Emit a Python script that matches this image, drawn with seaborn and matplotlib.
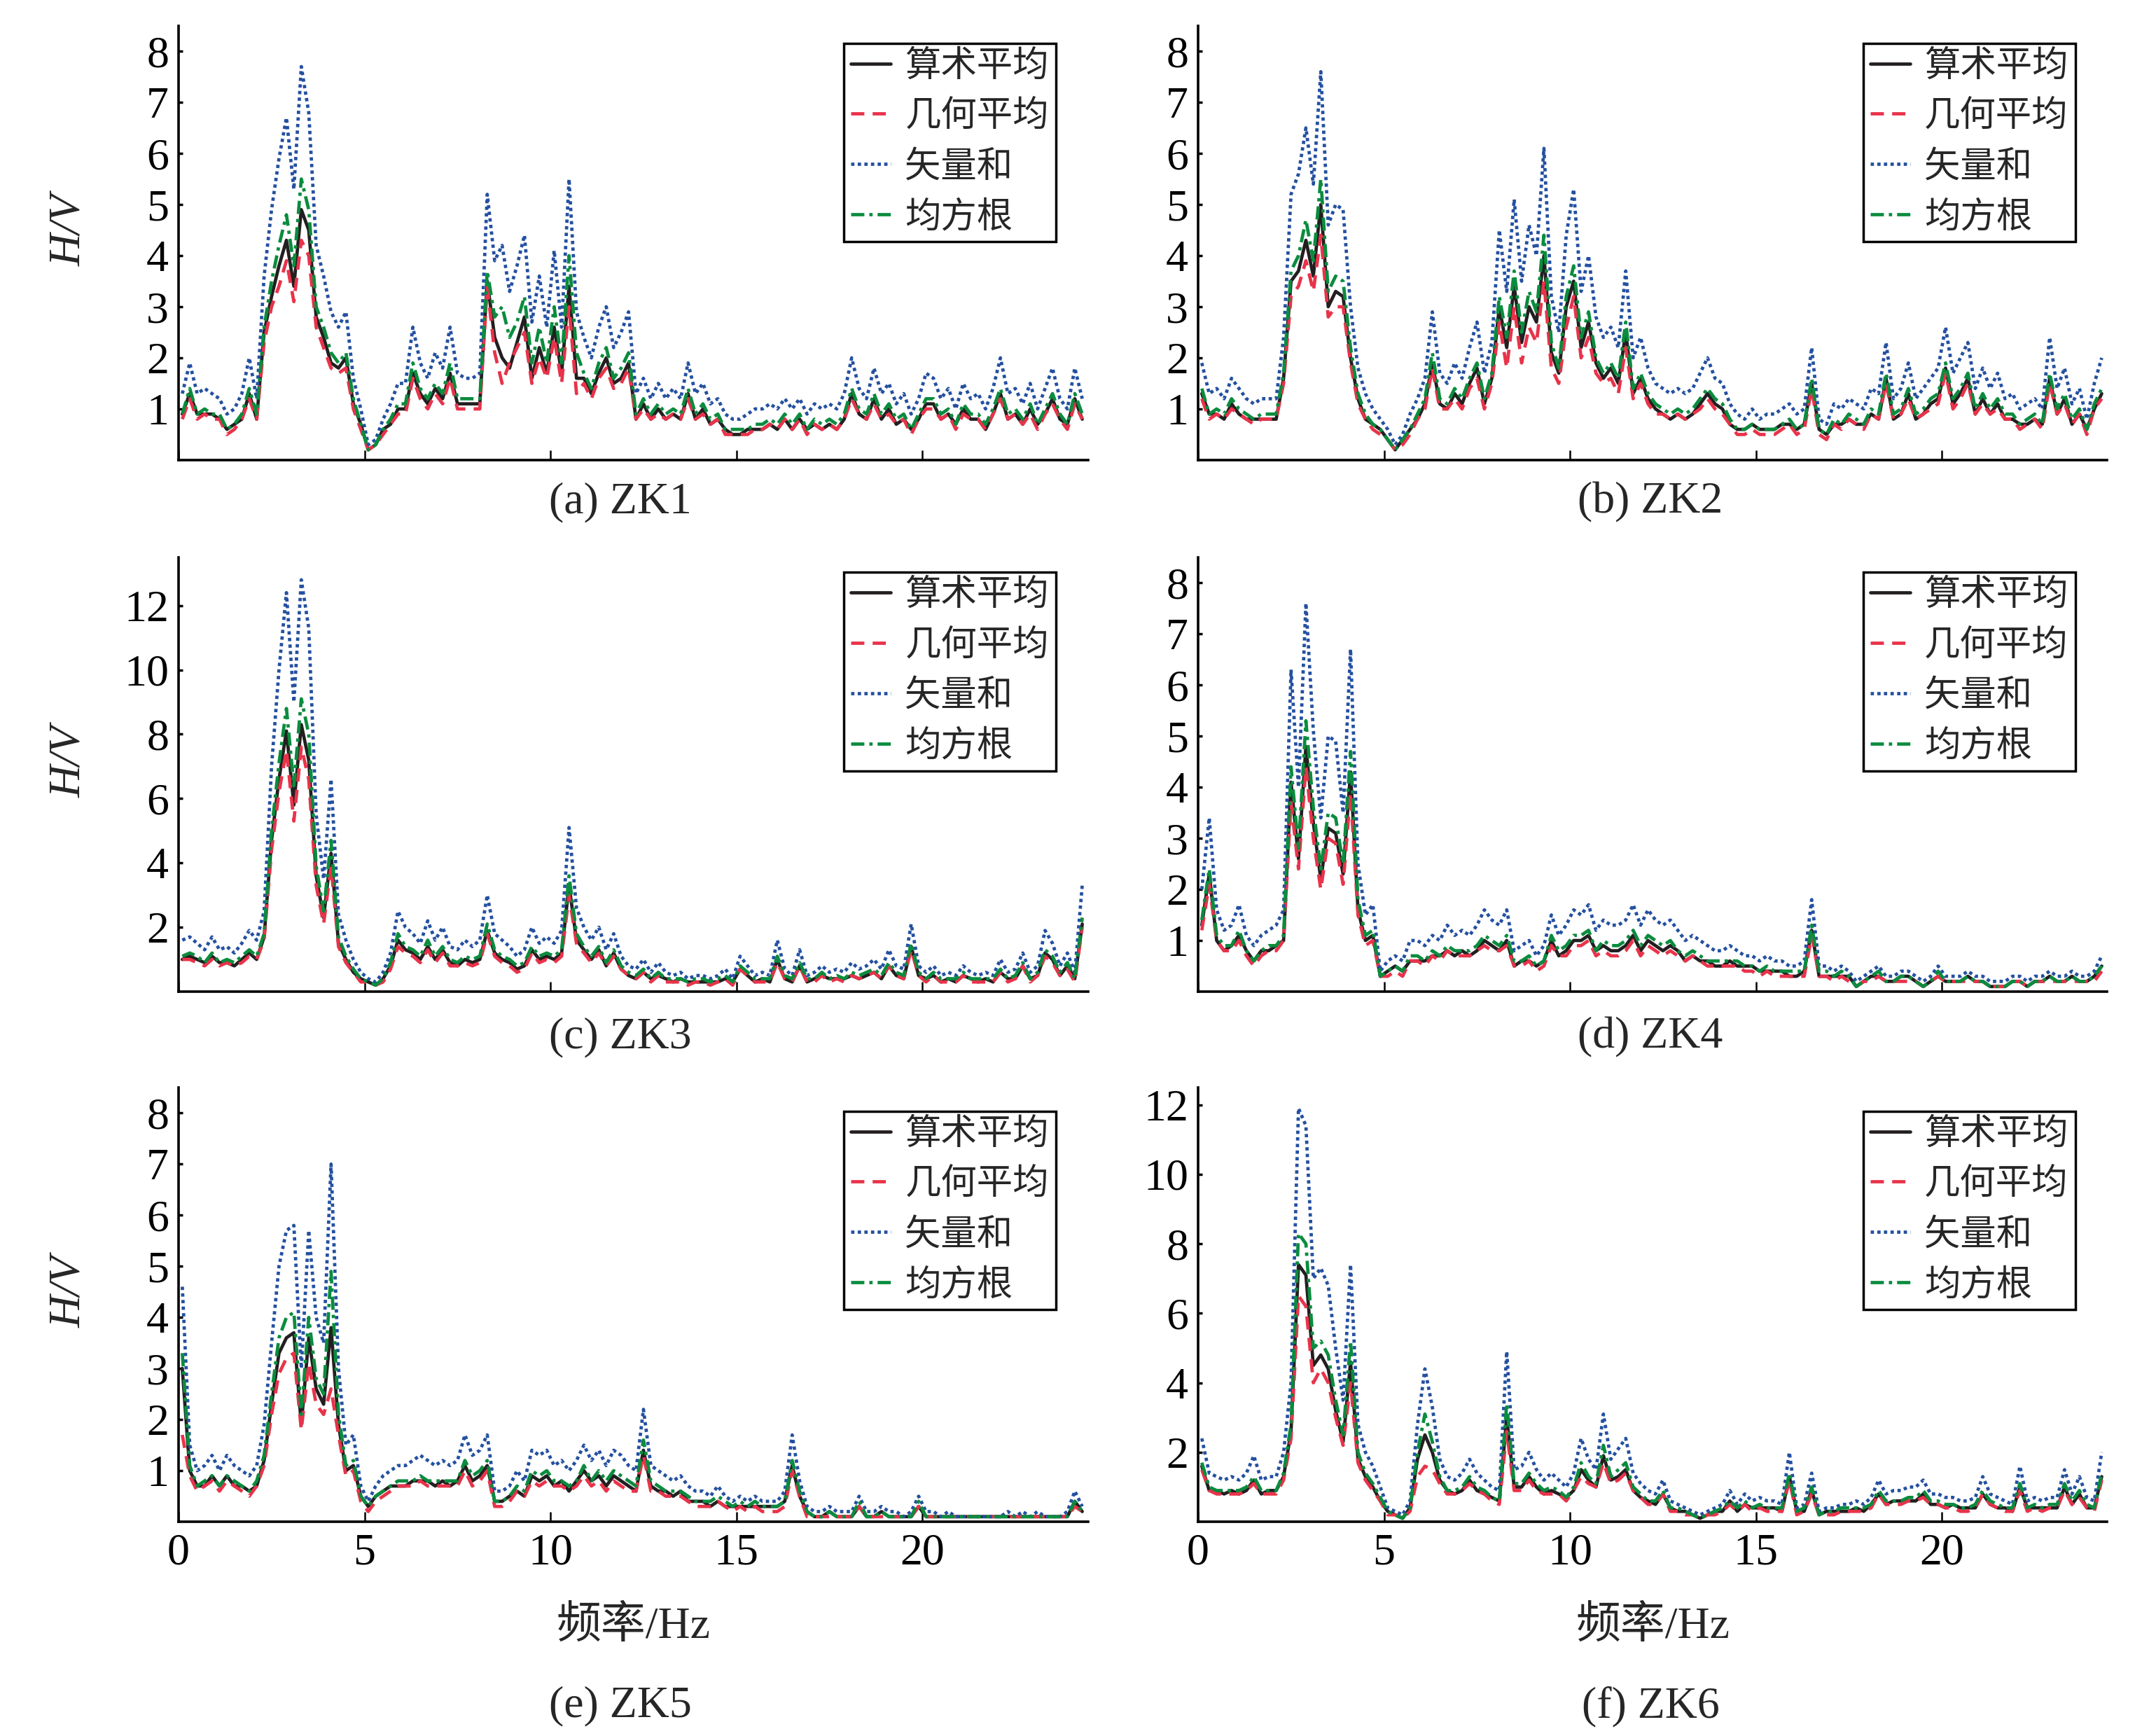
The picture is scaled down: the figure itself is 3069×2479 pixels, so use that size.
import numpy as np
import pandas as pd
import seaborn as sns
import matplotlib.pyplot as plt

# frequency grid (Hz), values every 0.2 Hz
freq = np.round(np.arange(0.1, 24.4, 0.2), 1)
series_names = ['算术平均', '几何平均', '矢量和', '均方根']

# ---- ZK1 ----
zk1_arith = [0.9, 1.3, 0.9, 0.9, 0.9, 0.8, 0.6, 0.7, 0.8, 1.3,
             0.8, 2.5, 3.2, 3.8, 4.3, 3.4, 4.9, 4.5, 2.8, 2.4,
             1.9, 1.8, 2.0, 1.1, 0.7, 0.2, 0.3, 0.6, 0.7, 1.0,
             1.0, 1.7, 1.3, 1.1, 1.4, 1.2, 1.7, 1.1, 1.1, 1.1,
             1.1, 3.5, 2.4, 2.0, 1.8, 2.3, 2.8, 1.6, 2.2, 1.7,
             2.6, 1.7, 3.4, 1.6, 1.6, 1.3, 1.7, 2.0, 1.5, 1.6,
             1.9, 0.8, 1.1, 0.8, 1.0, 0.8, 0.9, 0.8, 1.3, 0.8,
             1.0, 0.7, 0.8, 0.6, 0.5, 0.5, 0.6, 0.6, 0.6, 0.7,
             0.6, 0.8, 0.6, 0.8, 0.6, 0.7, 0.6, 0.7, 0.6, 0.8,
             1.3, 0.9, 0.8, 1.2, 0.8, 1.0, 0.7, 0.8, 0.6, 0.8,
             1.1, 1.1, 0.8, 0.9, 0.7, 1.0, 0.8, 0.8, 0.6, 0.9,
             1.3, 0.8, 0.9, 0.7, 1.0, 0.7, 0.9, 1.2, 0.8, 0.7,
             1.2, 0.8]
zk1_geo = [0.8, 1.2, 0.8, 0.9, 0.8, 0.8, 0.5, 0.6, 0.8, 1.2,
           0.8, 2.3, 3.0, 3.4, 3.9, 3.1, 4.3, 4.0, 2.6, 2.2,
           1.8, 1.7, 1.8, 1.0, 0.6, 0.2, 0.3, 0.5, 0.7, 0.9,
           0.9, 1.6, 1.2, 1.0, 1.3, 1.1, 1.6, 1.0, 1.0, 1.0,
           1.0, 3.4, 2.1, 1.5, 1.9, 2.2, 2.5, 1.5, 2.0, 1.6,
           2.4, 1.5, 3.0, 1.3, 1.5, 1.2, 1.6, 1.8, 1.4, 1.5,
           1.8, 0.8, 1.0, 0.8, 0.9, 0.8, 0.9, 0.8, 1.2, 0.8,
           0.9, 0.7, 0.8, 0.5, 0.5, 0.5, 0.5, 0.6, 0.6, 0.7,
           0.6, 0.8, 0.6, 0.8, 0.5, 0.7, 0.6, 0.7, 0.6, 0.8,
           1.2, 0.9, 0.8, 1.1, 0.8, 0.9, 0.7, 0.8, 0.5, 0.8,
           1.0, 1.0, 0.8, 0.9, 0.6, 0.9, 0.8, 0.8, 0.6, 0.9,
           1.2, 0.8, 0.9, 0.7, 0.9, 0.6, 0.9, 1.1, 0.8, 0.6,
           1.1, 0.8]
zk1_vec = [1.3, 1.9, 1.3, 1.4, 1.3, 1.2, 0.9, 1.0, 1.3, 2.0,
           1.2, 3.6, 4.9, 5.9, 6.7, 5.3, 7.7, 6.8, 4.2, 3.6,
           2.9, 2.6, 2.9, 1.6, 1.0, 0.3, 0.4, 0.8, 1.1, 1.5,
           1.5, 2.6, 1.9, 1.6, 2.1, 1.8, 2.6, 1.7, 1.6, 1.6,
           1.7, 5.2, 3.9, 4.2, 3.3, 3.8, 4.4, 2.7, 3.6, 2.6,
           4.1, 2.6, 5.5, 2.9, 2.4, 2.0, 2.6, 3.0, 2.2, 2.5,
           2.9, 1.3, 1.6, 1.2, 1.5, 1.2, 1.4, 1.2, 1.9, 1.3,
           1.5, 1.1, 1.2, 0.9, 0.8, 0.8, 0.9, 1.0, 1.0, 1.1,
           1.0, 1.2, 1.0, 1.2, 0.9, 1.1, 1.0, 1.1, 1.0, 1.3,
           2.0, 1.4, 1.2, 1.8, 1.3, 1.5, 1.1, 1.3, 0.9, 1.2,
           1.7, 1.6, 1.2, 1.4, 1.0, 1.5, 1.2, 1.3, 1.0, 1.4,
           2.0, 1.3, 1.4, 1.1, 1.5, 1.0, 1.4, 1.8, 1.2, 1.0,
           1.8, 1.2]
zk1_rms = [0.9, 1.4, 0.9, 1.0, 0.9, 0.9, 0.6, 0.7, 0.9, 1.4,
           0.9, 2.6, 3.5, 4.2, 4.8, 3.8, 5.5, 4.9, 3.0, 2.6,
           2.1, 1.9, 2.1, 1.2, 0.7, 0.2, 0.3, 0.6, 0.8, 1.1,
           1.1, 1.9, 1.4, 1.2, 1.5, 1.3, 1.9, 1.2, 1.2, 1.2,
           1.2, 3.7, 2.8, 3.0, 2.4, 2.7, 3.2, 1.9, 2.6, 1.9,
           3.0, 1.9, 4.0, 2.1, 1.7, 1.4, 1.9, 2.2, 1.6, 1.8,
           2.1, 0.9, 1.2, 0.9, 1.1, 0.9, 1.0, 0.9, 1.4, 0.9,
           1.1, 0.8, 0.9, 0.6, 0.6, 0.6, 0.6, 0.7, 0.7, 0.8,
           0.7, 0.9, 0.7, 0.9, 0.6, 0.8, 0.7, 0.8, 0.7, 0.9,
           1.4, 1.0, 0.9, 1.3, 0.9, 1.1, 0.8, 0.9, 0.6, 0.9,
           1.2, 1.2, 0.9, 1.0, 0.7, 1.1, 0.9, 0.9, 0.7, 1.0,
           1.4, 0.9, 1.0, 0.8, 1.1, 0.7, 1.0, 1.3, 0.9, 0.7,
           1.3, 0.9]

# ---- ZK2 ----
zk2_arith = [1.3, 0.9, 0.9, 0.8, 1.1, 0.9, 0.8, 0.8, 0.8, 0.8,
             0.8, 1.6, 3.5, 3.7, 4.3, 3.6, 5.0, 3.0, 3.3, 3.2,
             2.0, 1.2, 0.8, 0.7, 0.6, 0.4, 0.2, 0.4, 0.6, 0.8,
             1.1, 1.9, 1.1, 1.0, 1.3, 1.1, 1.5, 1.8, 1.1, 1.6,
             3.0, 2.2, 3.4, 2.3, 3.0, 2.7, 4.0, 2.1, 1.7, 3.0,
             3.5, 2.2, 2.7, 1.9, 1.6, 1.8, 1.5, 2.5, 1.3, 1.6,
             1.2, 1.0, 0.9, 0.8, 0.9, 0.8, 0.9, 1.1, 1.3, 1.1,
             1.0, 0.7, 0.6, 0.6, 0.7, 0.6, 0.6, 0.6, 0.7, 0.7,
             0.6, 0.7, 1.5, 0.6, 0.5, 0.7, 0.7, 0.8, 0.7, 0.7,
             0.9, 0.8, 1.6, 0.8, 0.9, 1.3, 0.8, 0.9, 1.1, 1.2,
             1.8, 1.1, 1.3, 1.6, 0.9, 1.2, 0.9, 1.1, 0.8, 0.8,
             0.7, 0.7, 0.8, 0.7, 1.6, 0.9, 1.2, 0.7, 0.9, 0.6,
             1.0, 1.3]
zk2_geo = [1.2, 0.8, 0.9, 0.8, 1.0, 0.9, 0.8, 0.7, 0.8, 0.8,
           0.8, 1.5, 3.2, 3.4, 3.9, 3.3, 4.4, 2.8, 3.0, 3.0,
           1.9, 1.1, 0.8, 0.6, 0.5, 0.4, 0.2, 0.3, 0.5, 0.8,
           1.0, 1.8, 1.0, 1.0, 1.2, 1.0, 1.4, 1.6, 1.0, 1.5,
           2.7, 1.8, 3.0, 1.9, 2.6, 2.3, 3.5, 1.8, 1.5, 2.6,
           3.2, 2.0, 2.4, 1.7, 1.5, 1.6, 1.3, 2.2, 1.2, 1.5,
           1.1, 0.9, 0.9, 0.8, 0.9, 0.8, 0.9, 1.0, 1.2, 1.0,
           0.9, 0.7, 0.5, 0.5, 0.6, 0.5, 0.5, 0.5, 0.6, 0.7,
           0.5, 0.6, 1.4, 0.5, 0.4, 0.7, 0.6, 0.8, 0.7, 0.6,
           0.9, 0.8, 1.5, 0.8, 0.9, 1.2, 0.8, 0.9, 1.0, 1.1,
           1.7, 1.0, 1.2, 1.5, 0.9, 1.1, 0.9, 1.0, 0.8, 0.8,
           0.6, 0.7, 0.8, 0.6, 1.5, 0.9, 1.1, 0.7, 0.9, 0.5,
           1.0, 1.2]
zk2_vec = [1.9, 1.3, 1.4, 1.2, 1.6, 1.4, 1.2, 1.1, 1.2, 1.2,
           1.2, 2.4, 5.2, 5.6, 6.5, 5.4, 7.6, 4.6, 5.0, 4.9,
           3.0, 1.8, 1.3, 1.0, 0.8, 0.6, 0.3, 0.5, 0.9, 1.2,
           1.6, 2.9, 1.7, 1.5, 1.9, 1.6, 2.2, 2.7, 1.7, 2.3,
           4.5, 3.3, 5.1, 3.5, 4.6, 4.0, 6.1, 3.2, 2.5, 4.4,
           5.3, 3.3, 4.0, 2.8, 2.4, 2.6, 2.2, 3.7, 2.0, 2.4,
           1.8, 1.5, 1.4, 1.3, 1.4, 1.3, 1.4, 1.7, 2.0, 1.6,
           1.5, 1.1, 0.9, 0.8, 1.0, 0.8, 0.9, 0.9, 1.0, 1.1,
           0.9, 1.0, 2.2, 0.8, 0.7, 1.1, 1.0, 1.2, 1.1, 1.0,
           1.4, 1.3, 2.3, 1.2, 1.4, 1.9, 1.2, 1.4, 1.6, 1.8,
           2.6, 1.7, 2.0, 2.3, 1.4, 1.8, 1.4, 1.7, 1.2, 1.3,
           1.0, 1.1, 1.2, 1.0, 2.4, 1.4, 1.8, 1.1, 1.4, 0.8,
           1.5, 2.0]
zk2_rms = [1.4, 0.9, 1.0, 0.9, 1.2, 1.0, 0.9, 0.8, 0.9, 0.9,
           0.9, 1.7, 3.7, 4.0, 4.7, 3.9, 5.5, 3.3, 3.6, 3.5,
           2.2, 1.3, 0.9, 0.7, 0.6, 0.4, 0.2, 0.4, 0.6, 0.9,
           1.2, 2.1, 1.2, 1.1, 1.4, 1.2, 1.6, 1.9, 1.2, 1.7,
           3.2, 2.4, 3.7, 2.5, 3.3, 2.9, 4.4, 2.3, 1.8, 3.2,
           3.8, 2.4, 2.9, 2.0, 1.7, 1.9, 1.6, 2.7, 1.4, 1.7,
           1.3, 1.1, 1.0, 0.9, 1.0, 0.9, 1.0, 1.2, 1.4, 1.2,
           1.1, 0.8, 0.6, 0.6, 0.7, 0.6, 0.6, 0.6, 0.7, 0.8,
           0.6, 0.7, 1.6, 0.6, 0.5, 0.8, 0.7, 0.9, 0.8, 0.7,
           1.0, 0.9, 1.7, 0.9, 1.0, 1.4, 0.9, 1.0, 1.2, 1.3,
           1.9, 1.2, 1.4, 1.7, 1.0, 1.3, 1.0, 1.2, 0.9, 0.9,
           0.7, 0.8, 0.9, 0.7, 1.7, 1.0, 1.3, 0.8, 1.0, 0.6,
           1.1, 1.4]

# ---- ZK3 ----
zk3_arith = [1.0, 1.1, 1.0, 0.9, 1.1, 0.9, 0.9, 0.8, 1.0, 1.2,
             1.0, 1.7, 4.7, 6.6, 8.1, 5.8, 8.3, 7.2, 3.6, 2.3,
             4.3, 1.5, 1.0, 0.6, 0.4, 0.3, 0.2, 0.4, 0.8, 1.6,
             1.3, 1.2, 1.0, 1.4, 1.0, 1.3, 0.9, 0.8, 1.0, 0.9,
             1.0, 1.9, 1.2, 1.0, 0.9, 0.7, 0.8, 1.3, 1.0, 1.1,
             1.0, 1.2, 3.3, 1.6, 1.3, 1.0, 1.3, 0.8, 1.2, 0.7,
             0.5, 0.4, 0.6, 0.4, 0.5, 0.4, 0.3, 0.4, 0.3, 0.3,
             0.3, 0.3, 0.3, 0.4, 0.3, 0.7, 0.5, 0.3, 0.4, 0.3,
             1.0, 0.4, 0.3, 0.8, 0.3, 0.4, 0.5, 0.4, 0.4, 0.4,
             0.5, 0.4, 0.5, 0.6, 0.4, 0.8, 0.5, 0.4, 1.4, 0.5,
             0.4, 0.5, 0.3, 0.4, 0.3, 0.5, 0.4, 0.3, 0.4, 0.3,
             0.6, 0.4, 0.4, 0.8, 0.4, 0.5, 1.2, 1.0, 0.5, 0.8,
             0.4, 2.1]
zk3_geo = [1.0, 1.0, 0.9, 0.8, 1.0, 0.8, 0.9, 0.8, 0.9, 1.1,
           1.0, 1.6, 4.4, 6.2, 7.5, 5.3, 7.6, 6.6, 3.3, 2.1,
           3.9, 1.4, 0.9, 0.6, 0.3, 0.3, 0.2, 0.3, 0.7, 1.4,
           1.2, 1.1, 0.9, 1.3, 0.9, 1.2, 0.8, 0.8, 0.9, 0.8,
           0.9, 1.8, 1.1, 0.9, 0.8, 0.6, 0.7, 1.2, 0.9, 1.0,
           0.9, 1.1, 3.0, 1.5, 1.2, 0.9, 1.2, 0.8, 1.1, 0.7,
           0.5, 0.4, 0.6, 0.3, 0.5, 0.3, 0.3, 0.3, 0.2, 0.3,
           0.3, 0.2, 0.3, 0.4, 0.2, 0.7, 0.5, 0.3, 0.3, 0.3,
           0.9, 0.4, 0.3, 0.8, 0.3, 0.3, 0.5, 0.3, 0.4, 0.3,
           0.5, 0.4, 0.5, 0.6, 0.4, 0.8, 0.5, 0.4, 1.3, 0.5,
           0.3, 0.5, 0.3, 0.3, 0.3, 0.5, 0.3, 0.3, 0.3, 0.3,
           0.6, 0.3, 0.4, 0.8, 0.3, 0.5, 1.1, 0.9, 0.5, 0.7,
           0.3, 2.0]
zk3_vec = [1.6, 1.7, 1.5, 1.3, 1.7, 1.3, 1.4, 1.2, 1.5, 1.9,
           1.6, 2.5, 7.0, 10.0, 12.4, 9.0, 12.8, 11.3, 5.5, 3.5,
           6.6, 2.4, 1.6, 1.0, 0.6, 0.4, 0.3, 0.6, 1.2, 2.5,
           2.0, 1.8, 1.5, 2.2, 1.6, 2.0, 1.4, 1.3, 1.6, 1.4,
           1.6, 3.0, 1.8, 1.6, 1.4, 1.1, 1.3, 2.0, 1.5, 1.7,
           1.5, 1.9, 5.1, 2.6, 2.0, 1.6, 2.0, 1.3, 1.8, 1.1,
           0.8, 0.7, 1.0, 0.6, 0.9, 0.6, 0.5, 0.6, 0.4, 0.5,
           0.5, 0.4, 0.5, 0.7, 0.4, 1.1, 0.8, 0.5, 0.6, 0.5,
           1.6, 0.7, 0.5, 1.3, 0.5, 0.6, 0.8, 0.6, 0.7, 0.6,
           0.9, 0.7, 0.8, 1.0, 0.7, 1.3, 0.8, 0.7, 2.1, 0.8,
           0.6, 0.8, 0.5, 0.6, 0.5, 0.8, 0.6, 0.5, 0.6, 0.5,
           1.0, 0.6, 0.7, 1.2, 0.6, 0.8, 1.9, 1.5, 0.8, 1.2,
           0.6, 3.3]
zk3_rms = [1.1, 1.2, 1.1, 0.9, 1.2, 0.9, 1.0, 0.9, 1.1, 1.3,
           1.1, 1.8, 5.0, 7.1, 8.8, 6.4, 9.1, 8.0, 3.9, 2.5,
           4.7, 1.7, 1.1, 0.7, 0.4, 0.3, 0.2, 0.4, 0.9, 1.8,
           1.4, 1.3, 1.1, 1.6, 1.1, 1.4, 1.0, 0.9, 1.1, 1.0,
           1.1, 2.1, 1.3, 1.1, 1.0, 0.8, 0.9, 1.4, 1.1, 1.2,
           1.1, 1.3, 3.6, 1.8, 1.4, 1.1, 1.4, 0.9, 1.3, 0.8,
           0.6, 0.5, 0.7, 0.4, 0.6, 0.4, 0.4, 0.4, 0.3, 0.4,
           0.4, 0.3, 0.4, 0.5, 0.3, 0.8, 0.6, 0.4, 0.4, 0.4,
           1.1, 0.5, 0.4, 0.9, 0.4, 0.4, 0.6, 0.4, 0.5, 0.4,
           0.6, 0.5, 0.6, 0.7, 0.5, 0.9, 0.6, 0.5, 1.5, 0.6,
           0.4, 0.6, 0.4, 0.4, 0.4, 0.6, 0.4, 0.4, 0.4, 0.4,
           0.7, 0.4, 0.5, 0.9, 0.4, 0.6, 1.3, 1.1, 0.6, 0.9,
           0.4, 2.3]

# ---- ZK4 ----
zk4_arith = [1.3, 2.3, 1.0, 0.8, 0.9, 1.1, 0.8, 0.6, 0.8, 0.8,
             0.9, 1.0, 4.1, 2.6, 4.8, 3.3, 2.2, 3.2, 3.1, 2.3,
             4.3, 1.6, 1.0, 1.1, 0.3, 0.4, 0.5, 0.4, 0.6, 0.6,
             0.6, 0.7, 0.7, 0.8, 0.7, 0.8, 0.7, 0.8, 1.0, 0.9,
             0.8, 1.0, 0.5, 0.6, 0.6, 0.5, 0.6, 1.0, 0.7, 0.8,
             1.0, 1.0, 1.1, 0.8, 0.9, 0.8, 0.8, 0.9, 1.1, 0.8,
             1.0, 0.9, 0.8, 0.9, 0.8, 0.6, 0.7, 0.6, 0.6, 0.5,
             0.5, 0.6, 0.5, 0.5, 0.5, 0.4, 0.4, 0.4, 0.4, 0.3,
             0.3, 0.4, 1.2, 0.3, 0.3, 0.3, 0.3, 0.3, 0.1, 0.2,
             0.3, 0.3, 0.2, 0.2, 0.3, 0.3, 0.2, 0.1, 0.2, 0.3,
             0.2, 0.2, 0.2, 0.3, 0.2, 0.2, 0.1, 0.1, 0.1, 0.2,
             0.2, 0.1, 0.2, 0.2, 0.3, 0.2, 0.2, 0.3, 0.2, 0.2,
             0.3, 0.5]
zk4_geo = [1.2, 2.1, 1.0, 0.8, 0.8, 1.0, 0.7, 0.5, 0.7, 0.8,
           0.8, 1.0, 3.7, 2.4, 4.4, 3.0, 2.0, 3.0, 2.9, 2.1,
           3.9, 1.5, 0.9, 1.0, 0.3, 0.3, 0.4, 0.3, 0.6, 0.6,
           0.5, 0.7, 0.6, 0.8, 0.7, 0.7, 0.7, 0.8, 0.9, 0.8,
           0.8, 0.9, 0.5, 0.5, 0.6, 0.4, 0.5, 0.9, 0.7, 0.7,
           0.9, 0.9, 1.0, 0.7, 0.8, 0.7, 0.7, 0.8, 1.0, 0.7,
           0.9, 0.8, 0.7, 0.8, 0.7, 0.6, 0.7, 0.6, 0.5, 0.5,
           0.5, 0.5, 0.5, 0.4, 0.4, 0.3, 0.4, 0.3, 0.3, 0.3,
           0.3, 0.3, 1.1, 0.3, 0.3, 0.2, 0.3, 0.2, 0.1, 0.2,
           0.2, 0.3, 0.2, 0.2, 0.2, 0.2, 0.2, 0.1, 0.2, 0.3,
           0.2, 0.2, 0.2, 0.2, 0.2, 0.2, 0.1, 0.1, 0.1, 0.2,
           0.2, 0.1, 0.2, 0.2, 0.2, 0.2, 0.2, 0.2, 0.2, 0.2,
           0.2, 0.4]
zk4_vec = [2.0, 3.4, 1.6, 1.2, 1.3, 1.7, 1.1, 0.9, 1.1, 1.2,
           1.3, 1.6, 6.3, 4.0, 7.6, 5.1, 3.4, 5.0, 4.9, 3.5,
           6.7, 2.5, 1.5, 1.7, 0.4, 0.6, 0.7, 0.6, 1.0, 1.0,
           0.9, 1.1, 1.0, 1.3, 1.1, 1.2, 1.1, 1.3, 1.6, 1.4,
           1.3, 1.6, 0.8, 0.9, 1.0, 0.7, 0.9, 1.5, 1.1, 1.3,
           1.6, 1.5, 1.7, 1.2, 1.4, 1.3, 1.3, 1.4, 1.7, 1.3,
           1.6, 1.4, 1.3, 1.4, 1.2, 1.0, 1.1, 1.0, 0.9, 0.8,
           0.8, 0.9, 0.8, 0.7, 0.7, 0.6, 0.7, 0.6, 0.6, 0.5,
           0.5, 0.6, 1.8, 0.5, 0.5, 0.4, 0.5, 0.4, 0.2, 0.3,
           0.4, 0.5, 0.3, 0.3, 0.4, 0.4, 0.3, 0.2, 0.3, 0.5,
           0.3, 0.3, 0.3, 0.4, 0.3, 0.3, 0.2, 0.2, 0.2, 0.3,
           0.3, 0.2, 0.3, 0.3, 0.4, 0.3, 0.3, 0.4, 0.3, 0.3,
           0.4, 0.7]
zk4_rms = [1.4, 2.4, 1.1, 0.9, 0.9, 1.2, 0.8, 0.6, 0.8, 0.9,
           0.9, 1.1, 4.4, 2.8, 5.3, 3.6, 2.4, 3.5, 3.4, 2.5,
           4.7, 1.8, 1.1, 1.2, 0.3, 0.4, 0.5, 0.4, 0.7, 0.7,
           0.6, 0.8, 0.7, 0.9, 0.8, 0.8, 0.8, 0.9, 1.1, 1.0,
           0.9, 1.1, 0.6, 0.6, 0.7, 0.5, 0.6, 1.1, 0.8, 0.9,
           1.1, 1.1, 1.2, 0.8, 1.0, 0.9, 0.9, 1.0, 1.2, 0.9,
           1.1, 1.0, 0.9, 1.0, 0.8, 0.7, 0.8, 0.7, 0.6, 0.6,
           0.6, 0.6, 0.6, 0.5, 0.5, 0.4, 0.5, 0.4, 0.4, 0.4,
           0.4, 0.4, 1.3, 0.4, 0.4, 0.3, 0.4, 0.3, 0.1, 0.2,
           0.3, 0.4, 0.2, 0.2, 0.3, 0.3, 0.2, 0.1, 0.2, 0.4,
           0.2, 0.2, 0.2, 0.3, 0.2, 0.2, 0.1, 0.1, 0.1, 0.2,
           0.2, 0.1, 0.2, 0.2, 0.3, 0.2, 0.2, 0.3, 0.2, 0.2,
           0.3, 0.5]

# ---- ZK5 ----
zk5_arith = [3.0, 1.0, 0.7, 0.7, 0.9, 0.7, 0.9, 0.7, 0.7, 0.6,
             0.7, 1.2, 2.3, 3.3, 3.6, 3.7, 1.9, 3.6, 2.6, 2.3,
             3.8, 1.9, 1.0, 1.1, 0.5, 0.3, 0.5, 0.6, 0.7, 0.7,
             0.7, 0.8, 0.8, 0.8, 0.7, 0.8, 0.7, 0.8, 1.1, 0.8,
             0.9, 1.1, 0.4, 0.4, 0.5, 0.6, 0.5, 0.9, 0.8, 0.9,
             0.7, 0.8, 0.6, 0.8, 1.0, 0.8, 0.9, 0.7, 0.9, 0.8,
             0.7, 0.6, 1.4, 0.7, 0.6, 0.6, 0.5, 0.6, 0.4, 0.4,
             0.4, 0.3, 0.4, 0.3, 0.3, 0.3, 0.3, 0.3, 0.3, 0.3,
             0.3, 0.4, 1.1, 0.5, 0.2, 0.1, 0.1, 0.2, 0.1, 0.1,
             0.1, 0.3, 0.1, 0.1, 0.2, 0.1, 0.1, 0.1, 0.1, 0.3,
             0.1, 0.1, 0.1, 0.1, 0.1, 0.1, 0.1, 0.1, 0.1, 0.1,
             0.1, 0.1, 0.1, 0.1, 0.1, 0.1, 0.1, 0.1, 0.1, 0.1,
             0.4, 0.2]
zk5_geo = [1.7, 0.9, 0.6, 0.7, 0.8, 0.6, 0.8, 0.7, 0.6, 0.5,
           0.7, 1.1, 2.1, 2.9, 3.2, 3.3, 1.8, 3.1, 2.3, 2.1,
           2.6, 1.7, 0.9, 1.0, 0.4, 0.2, 0.4, 0.5, 0.6, 0.7,
           0.7, 0.7, 0.8, 0.7, 0.7, 0.7, 0.7, 0.7, 1.0, 0.7,
           0.8, 1.0, 0.3, 0.3, 0.4, 0.6, 0.5, 0.8, 0.7, 0.8,
           0.7, 0.7, 0.6, 0.7, 0.9, 0.7, 0.8, 0.6, 0.8, 0.7,
           0.6, 0.6, 1.3, 0.6, 0.6, 0.5, 0.5, 0.5, 0.4, 0.3,
           0.3, 0.3, 0.4, 0.3, 0.2, 0.3, 0.2, 0.3, 0.2, 0.2,
           0.2, 0.3, 1.0, 0.5, 0.1, 0.1, 0.1, 0.1, 0.1, 0.1,
           0.1, 0.3, 0.1, 0.1, 0.1, 0.1, 0.1, 0.1, 0.1, 0.3,
           0.1, 0.1, 0.1, 0.1, 0.1, 0.1, 0.1, 0.1, 0.1, 0.1,
           0.1, 0.1, 0.1, 0.1, 0.1, 0.1, 0.1, 0.1, 0.1, 0.1,
           0.3, 0.2]
zk5_vec = [4.6, 1.5, 1.0, 1.1, 1.3, 1.0, 1.3, 1.1, 1.0, 0.9,
           1.1, 1.9, 3.5, 5.0, 5.7, 5.8, 3.0, 5.7, 4.0, 3.5,
           7.0, 3.0, 1.5, 1.7, 0.7, 0.4, 0.7, 0.9, 1.0, 1.1,
           1.1, 1.2, 1.3, 1.2, 1.1, 1.2, 1.1, 1.2, 1.7, 1.3,
           1.4, 1.7, 0.6, 0.6, 0.7, 1.0, 0.8, 1.4, 1.3, 1.4,
           1.1, 1.2, 1.0, 1.2, 1.5, 1.2, 1.4, 1.1, 1.4, 1.3,
           1.1, 1.0, 2.2, 1.1, 1.0, 0.9, 0.8, 0.9, 0.7, 0.6,
           0.6, 0.5, 0.7, 0.5, 0.4, 0.5, 0.4, 0.5, 0.4, 0.4,
           0.4, 0.6, 1.7, 0.8, 0.3, 0.2, 0.2, 0.3, 0.2, 0.2,
           0.2, 0.5, 0.2, 0.2, 0.3, 0.2, 0.2, 0.1, 0.2, 0.5,
           0.2, 0.2, 0.1, 0.2, 0.1, 0.1, 0.1, 0.1, 0.1, 0.1,
           0.1, 0.2, 0.1, 0.2, 0.1, 0.2, 0.1, 0.1, 0.1, 0.2,
           0.6, 0.3]
zk5_rms = [3.3, 1.1, 0.7, 0.8, 0.9, 0.7, 0.9, 0.8, 0.7, 0.6,
           0.8, 1.3, 2.5, 3.6, 4.0, 4.1, 2.1, 4.0, 2.8, 2.5,
           4.9, 2.1, 1.1, 1.2, 0.5, 0.3, 0.5, 0.6, 0.7, 0.8,
           0.8, 0.8, 0.9, 0.8, 0.8, 0.8, 0.8, 0.8, 1.2, 0.9,
           1.0, 1.2, 0.4, 0.4, 0.5, 0.7, 0.6, 1.0, 0.9, 1.0,
           0.8, 0.8, 0.7, 0.8, 1.1, 0.8, 1.0, 0.8, 1.0, 0.9,
           0.8, 0.7, 1.6, 0.8, 0.7, 0.6, 0.6, 0.6, 0.5, 0.4,
           0.4, 0.4, 0.5, 0.4, 0.3, 0.4, 0.3, 0.4, 0.3, 0.3,
           0.3, 0.4, 1.2, 0.6, 0.2, 0.1, 0.1, 0.2, 0.1, 0.1,
           0.1, 0.4, 0.1, 0.1, 0.2, 0.1, 0.1, 0.1, 0.1, 0.4,
           0.1, 0.1, 0.1, 0.1, 0.1, 0.1, 0.1, 0.1, 0.1, 0.1,
           0.1, 0.1, 0.1, 0.1, 0.1, 0.1, 0.1, 0.1, 0.1, 0.1,
           0.4, 0.2]

# ---- ZK6 ----
zk6_arith = [1.6, 0.9, 0.9, 0.8, 0.9, 0.8, 0.9, 1.2, 0.8, 0.9,
             0.9, 1.3, 2.6, 7.4, 7.1, 4.5, 4.8, 4.4, 3.2, 2.3,
             4.6, 1.8, 1.3, 1.0, 0.6, 0.3, 0.2, 0.1, 0.4, 1.8,
             2.5, 2.0, 1.2, 0.9, 0.8, 0.9, 1.2, 0.9, 0.8, 0.7,
             0.6, 3.0, 1.0, 1.0, 1.3, 1.0, 0.8, 0.9, 0.8, 0.7,
             0.9, 1.5, 1.2, 1.0, 1.9, 1.2, 1.3, 1.5, 0.9, 0.7,
             0.6, 0.5, 0.8, 0.4, 0.3, 0.3, 0.2, 0.1, 0.2, 0.3,
             0.3, 0.6, 0.3, 0.5, 0.4, 0.4, 0.4, 0.4, 0.3, 1.3,
             0.3, 0.3, 0.9, 0.2, 0.3, 0.3, 0.3, 0.3, 0.4, 0.3,
             0.5, 0.8, 0.5, 0.6, 0.6, 0.6, 0.6, 0.8, 0.5, 0.5,
             0.4, 0.5, 0.4, 0.4, 0.4, 0.8, 0.5, 0.4, 0.4, 0.3,
             1.0, 0.4, 0.4, 0.4, 0.4, 0.4, 1.0, 0.5, 0.8, 0.4,
             0.4, 1.3]
zk6_geo = [1.5, 0.9, 0.8, 0.8, 0.8, 0.8, 0.9, 1.1, 0.8, 0.8,
           0.8, 1.2, 2.4, 6.5, 6.2, 4.0, 4.4, 4.0, 3.0, 2.2,
           4.0, 1.7, 1.2, 0.9, 0.6, 0.2, 0.2, 0.1, 0.3, 1.3,
           1.6, 1.5, 1.1, 0.8, 0.8, 0.9, 1.1, 0.9, 0.8, 0.6,
           0.5, 2.6, 0.9, 0.9, 1.2, 0.9, 0.8, 0.8, 0.8, 0.6,
           0.9, 1.3, 1.1, 1.0, 1.7, 1.1, 1.2, 1.4, 0.9, 0.7,
           0.5, 0.5, 0.8, 0.3, 0.3, 0.2, 0.2, 0.1, 0.2, 0.2,
           0.3, 0.5, 0.3, 0.5, 0.3, 0.4, 0.3, 0.3, 0.3, 1.2,
           0.2, 0.3, 0.8, 0.2, 0.2, 0.2, 0.3, 0.3, 0.3, 0.3,
           0.4, 0.8, 0.5, 0.5, 0.5, 0.6, 0.6, 0.7, 0.5, 0.5,
           0.4, 0.4, 0.3, 0.3, 0.4, 0.8, 0.5, 0.4, 0.3, 0.3,
           0.9, 0.3, 0.4, 0.3, 0.4, 0.4, 0.9, 0.5, 0.7, 0.4,
           0.3, 1.2]
zk6_vec = [2.4, 1.4, 1.3, 1.2, 1.3, 1.2, 1.4, 1.9, 1.2, 1.3,
           1.3, 2.0, 4.0, 11.9, 11.4, 7.0, 7.3, 6.8, 5.0, 3.5,
           7.4, 2.8, 2.0, 1.6, 1.0, 0.4, 0.3, 0.2, 0.6, 2.8,
           4.4, 3.3, 1.8, 1.3, 1.2, 1.4, 1.8, 1.4, 1.2, 1.0,
           0.9, 4.9, 1.5, 1.6, 2.0, 1.5, 1.2, 1.4, 1.2, 1.0,
           1.4, 2.4, 1.8, 1.5, 3.1, 1.8, 2.1, 2.4, 1.4, 1.1,
           0.9, 0.8, 1.2, 0.6, 0.5, 0.4, 0.3, 0.2, 0.3, 0.4,
           0.5, 0.9, 0.5, 0.8, 0.6, 0.7, 0.6, 0.6, 0.5, 2.0,
           0.4, 0.5, 1.4, 0.3, 0.4, 0.4, 0.5, 0.5, 0.6, 0.5,
           0.7, 1.2, 0.8, 0.9, 0.9, 1.0, 1.0, 1.2, 0.8, 0.8,
           0.7, 0.7, 0.6, 0.6, 0.7, 1.3, 0.8, 0.7, 0.6, 0.5,
           1.6, 0.6, 0.7, 0.6, 0.7, 0.7, 1.5, 0.8, 1.3, 0.7,
           0.6, 2.0]
zk6_rms = [1.7, 1.0, 0.9, 0.9, 0.9, 0.9, 1.0, 1.3, 0.9, 0.9,
           0.9, 1.4, 2.8, 8.3, 8.0, 5.0, 5.2, 4.8, 3.5, 2.5,
           5.2, 2.0, 1.4, 1.1, 0.7, 0.3, 0.2, 0.1, 0.4, 2.0,
           3.1, 2.3, 1.3, 0.9, 0.9, 1.0, 1.3, 1.0, 0.9, 0.7,
           0.6, 3.4, 1.1, 1.1, 1.4, 1.1, 0.9, 1.0, 0.9, 0.7,
           1.0, 1.7, 1.3, 1.1, 2.2, 1.3, 1.5, 1.7, 1.0, 0.8,
           0.6, 0.6, 0.9, 0.4, 0.4, 0.3, 0.2, 0.1, 0.2, 0.3,
           0.4, 0.6, 0.4, 0.6, 0.4, 0.5, 0.4, 0.4, 0.4, 1.4,
           0.3, 0.4, 1.0, 0.2, 0.3, 0.3, 0.4, 0.4, 0.4, 0.4,
           0.5, 0.9, 0.6, 0.6, 0.6, 0.7, 0.7, 0.9, 0.6, 0.6,
           0.5, 0.5, 0.4, 0.4, 0.5, 0.9, 0.6, 0.5, 0.4, 0.4,
           1.1, 0.4, 0.5, 0.4, 0.5, 0.5, 1.1, 0.6, 0.9, 0.5,
           0.4, 1.4]

captions = ['(a) ZK1', '(b) ZK2', '(c) ZK3', '(d) ZK4', '(e) ZK5', '(f) ZK6']
panel_data = [
    (zk1_arith, zk1_geo, zk1_vec, zk1_rms),
    (zk2_arith, zk2_geo, zk2_vec, zk2_rms),
    (zk3_arith, zk3_geo, zk3_vec, zk3_rms),
    (zk4_arith, zk4_geo, zk4_vec, zk4_rms),
    (zk5_arith, zk5_geo, zk5_vec, zk5_rms),
    (zk6_arith, zk6_geo, zk6_vec, zk6_rms),
]
yticks_list = [range(1, 9), range(1, 9), range(2, 13, 2),
               range(1, 9), range(1, 9), range(2, 13, 2)]
ylims = [8.5, 8.5, 13.5, 8.5, 8.5, 12.5]
xticks = [0, 5, 10, 15, 20]

palette = {'算术平均': '#231f20', '几何平均': '#e8334a',
           '矢量和': '#2450a0', '均方根': '#0b8c3e'}
dashes = {'算术平均': '', '几何平均': (4, 2.5),
          '矢量和': (1, 1), '均方根': (4, 1.5, 1, 1.5)}

sns.set_style('ticks')
plt.rcParams['font.family'] = ['Liberation Serif', 'Noto Sans CJK SC']
plt.rcParams['axes.unicode_minus'] = False

fig = plt.figure(figsize=(30.69, 24.79), dpi=100)

lefts = [0.0831, 0.5575]
bottoms = [0.7350, 0.4288, 0.1234]
width, height = 0.4231, 0.2502
legend_tops = [0.959, 0.965, 0.945]
cap_x = [0.2887, 0.7680]
cap_y = [0.7104, 0.4026, 0.0170]

for i, (cap, vals) in enumerate(zip(captions, panel_data)):
    row, col = divmod(i, 2)
    ax = fig.add_axes([lefts[col], bottoms[row], width, height])

    df = pd.DataFrame({
        'freq': np.tile(freq, len(series_names)),
        'hv': np.concatenate([np.asarray(v, dtype=float) for v in vals]),
        'series': np.repeat(series_names, len(freq)),
    })
    sns.lineplot(data=df, x='freq', y='hv', hue='series', style='series',
                 hue_order=series_names, style_order=series_names,
                 palette=palette, dashes=dashes, linewidth=3.4,
                 estimator=None, sort=False, ax=ax)

    ax.set_xlim(0, 24.45)
    ax.set_ylim(0, ylims[i])
    ax.set_xticks(xticks)
    ax.set_yticks(list(yticks_list[i]))
    sns.despine(ax=ax)
    for s in ['left', 'bottom']:
        ax.spines[s].set_linewidth(2.6)
        ax.spines[s].set_color('black')
    ax.tick_params(axis='x', direction='in', length=10, width=1.8,
                   labelsize=46, pad=12, colors='black')
    ax.tick_params(axis='y', direction='in', length=4, width=2.5,
                   labelsize=46, pad=10, colors='black')
    if row < 2:
        ax.tick_params(axis='x', labelbottom=False)
        ax.set_xlabel('')
    else:
        ax.set_xlabel('频率/Hz', fontsize=46, labelpad=33)
    if col == 0:
        ax.set_ylabel('H/V', fontsize=46, fontstyle='italic')
        ax.yaxis.set_label_coords(-0.098, 0.53)
    else:
        ax.set_ylabel('')

    handles, labels = ax.get_legend_handles_labels()
    leg = ax.legend(handles, labels, loc='upper right',
                    bbox_to_anchor=(0.965, legend_tops[row]),
                    borderaxespad=0, frameon=True, fancybox=False,
                    edgecolor='black', framealpha=1, fontsize=37,
                    handlelength=1.1, handletextpad=0.4,
                    labelspacing=0.47, borderpad=0.2)
    leg.get_frame().set_linewidth(2.5)

    fig.text(cap_x[col], cap_y[row], cap, fontsize=46,
             ha='center', va='center')

fig.savefig('out.png', dpi=100)
